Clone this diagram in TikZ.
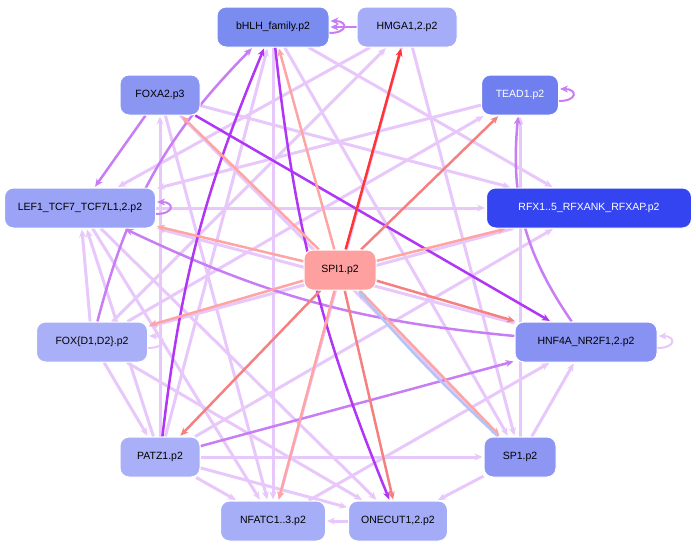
\documentclass[tikz,border=0pt]{standalone}
\usepackage{fontspec}
\setmainfont{Liberation Sans}
\usetikzlibrary{arrows.meta,backgrounds}
\definecolor{lav}{HTML}{E8C8FA}
\definecolor{pur}{HTML}{C87DF5}
\definecolor{dpur}{HTML}{B035F5}
\definecolor{pnk}{HTML}{FFA4A4}
\definecolor{sal}{HTML}{F58080}
\definecolor{rd}{HTML}{FF3535}
\definecolor{lbl}{HTML}{B4C4F4}
\begin{document}
\begin{tikzpicture}[x=1pt,y=-1pt,
  nd/.style={draw=white,line width=1pt,rounded corners=9pt,minimum height=40pt,inner xsep=7pt,font=\fontsize{10.5}{12}\selectfont},
  e/.style={line width=3pt,-{Stealth[length=8pt,width=7pt]},shorten >=1pt},
  L/.style={e,lav},P/.style={e,pur,line width=2.5pt},D/.style={e,dpur,line width=2.5pt},
  K/.style={e,pnk,line width=2.5pt},S/.style={e,sal,line width=2.5pt},R/.style={e,rd,line width=2.5pt},B/.style={e,lbl,line width=2.5pt}]
\useasboundingbox (0,0) rectangle (696,554);
% nodes
\node[nd,fill={rgb,255:red,123;green,140;blue,240},minimum width=112pt] (bh) at (273,27) {bHLH\_family.p2};
\node[nd,fill={rgb,255:red,165;green,172;blue,248},minimum width=100pt] (hm) at (407,27) {HMGA1,2.p2};
\node[nd,fill={rgb,255:red,111;green,127;blue,240},minimum width=77pt,text=white] (te) at (520,95) {TEAD1.p2};
\node[nd,fill={rgb,255:red,139;green,149;blue,242},minimum width=80pt] (fa) at (160,95) {FOXA2.p3};
\node[nd,fill={rgb,255:red,154;green,163;blue,245},minimum width=151pt] (le) at (80,208) {LEF1\_TCF7\_TCF7L1,2.p2};
\node[nd,fill={rgb,255:red,51;green,68;blue,240},minimum width=205pt,text=white] (rf) at (589,208) {RFX1..5\_RFXANK\_RFXAP.p2};
\node[nd,fill={rgb,255:red,255;green,160;blue,160},minimum width=72pt] (sp) at (340,270) {SPI1.p2};
\node[nd,fill={rgb,255:red,169;green,176;blue,247},minimum width=111pt] (fd) at (92,342) {FOX\{D1,D2\}.p2};
\node[nd,fill={rgb,255:red,135;green,146;blue,242},minimum width=142pt] (hn) at (586,342) {HNF4A\_NR2F1,2.p2};
\node[nd,fill={rgb,255:red,170;green,176;blue,247},minimum width=80pt] (pa) at (160,457) {PATZ1.p2};
\node[nd,fill={rgb,255:red,141;green,151;blue,243},minimum width=72pt] (s1) at (520,457) {SP1.p2};
\node[nd,fill={rgb,255:red,166;green,174;blue,247},minimum width=105pt] (nf) at (273,521) {NFATC1..3.p2};
\node[nd,fill={rgb,255:red,164;green,172;blue,247},minimum width=99pt] (on) at (398,521) {ONECUT1,2.p2};
\begin{scope}[on background layer]
\foreach \a/\b in {pa/fa,pa/le,pa/nf,pa/on,pa/s1,pa/rf,fd/le,fd/on,fd/te,le/nf,le/on,le/rf,fa/rf,fa/nf,fa/s1,bh/rf,bh/nf,bh/s1,hm/nf,hm/s1,hm/le,s1/hn,s1/te,s1/on,on/nf,nf/hn,hn/le,te/le,rf/fd,fd/hm,pa/bh,fd/pa}
  \draw[L] (\a) -- (\b);
\draw[P] (fa) -- (le);
\draw[P] (pa) -- (hn);
\draw[P] (hn) to[bend left=10] (le);
\draw[P] (hm) -- (bh);
\draw[P] (fd) to[bend left=15] (bh);
\draw[P] (hn) to[bend left=20] (te);
\draw[D] (fa) -- (hn);
\draw[D] (pa) to[bend left=8] (bh);
\draw[D] (bh) to[bend right=8] (on);
\draw[K] (sp) -- (bh); \draw[R] (sp) -- (hm); \draw[S] (sp) -- (te);
\draw[K] (sp) -- (rf); \draw[K] (sp) -- (le); \draw[K] (sp) -- (fd);
\draw[K] (sp) -- (fa); \draw[S] (sp) -- (pa); \draw[K] (sp) -- (nf);
\draw[S] (sp) -- (on); \draw[K] (sp) -- (s1); \draw[S] (sp) -- (hn);
\draw[B] (s1) to[bend left=3] (sp);
\end{scope}
% self loops
\draw[P,line width=2pt] ([yshift=-6pt]bh.east) to[out=0,in=0,looseness=4] ([yshift=6pt]bh.east);
\draw[P,line width=2pt] ([yshift=-6pt]te.east) to[out=0,in=0,looseness=4] ([yshift=6pt]te.east);
\draw[L,line width=2pt] ([yshift=-6pt]hn.east) to[out=0,in=0,looseness=4] ([yshift=6pt]hn.east);
\draw[L,line width=2pt] ([yshift=-6pt]fd.east) to[out=0,in=0,looseness=4] ([yshift=6pt]fd.east);
\draw[P,line width=2pt] ([yshift=-6pt]le.east) to[out=0,in=0,looseness=4] ([yshift=6pt]le.east);
\end{tikzpicture}
\end{document}
